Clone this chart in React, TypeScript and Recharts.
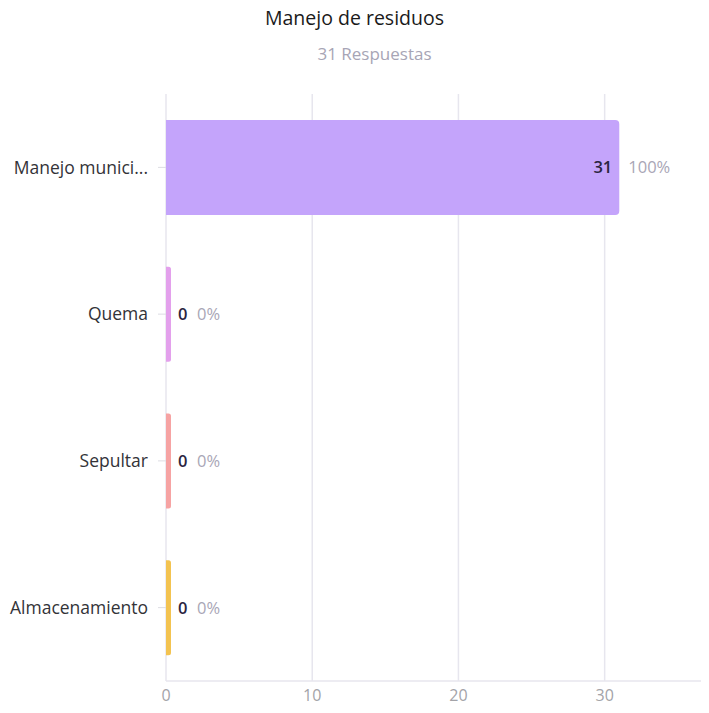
import { BarChart, Bar, XAxis, YAxis, CartesianGrid, Cell, LabelList, ReferenceLine } from 'recharts';

const categories = ['Manejo munici...', 'Quema', 'Sepultar', 'Almacenamiento'];
const counts = [31, 0, 0, 0];
const barColors = ['#c4a4fb', '#e3a0ec', '#f6a3a3', '#f3c350'];
const xTicks = [0, 10, 20, 30];
const totalResponses = 31;

const FONT = '"Open Sans", Lato, sans-serif';
const GRID = '#e7e6ee';
const X_MAX = 37;

const rows = categories.map((name, i) => ({
  name,
  count: counts[i],
  pct: Math.round((counts[i] / totalResponses) * 100),
}));

// count + percentage drawn next to the bar end
function BarLabel(props: any) {
  const { x, y, width, height, index } = props;
  const row = rows[index];
  const cy = y + height / 2;
  const inside = width > 40;
  const countX = inside ? x + width - 7 : x + width + 7;
  const pctX = inside ? x + width + 9 : x + width + 26;
  return (
    <g style={{ fontFamily: FONT, fontSize: 16.5 }}>
      <text x={countX} y={cy} dy="0.35em" textAnchor={inside ? 'end' : 'start'} fill="#2b2540" fontWeight={600}>
        {row.count}
      </text>
      <text x={pctX} y={cy} dy="0.35em" textAnchor="start" fill="#a9a6b6">
        {row.pct}%
      </text>
    </g>
  );
}

export default function App() {
  return (
    <div style={{ position: 'relative', width: 709, height: 713, margin: -8, background: '#fff', fontFamily: FONT }}>
      <div style={{ position: 'absolute', top: 4, left: 0, width: 709, textAlign: 'center', fontSize: 19.5, color: '#1a1a1a' }}>
        Manejo de residuos
      </div>
      <div style={{ position: 'absolute', top: 42, left: 20, width: 709, textAlign: 'center', fontSize: 17, color: '#a7a5b5' }}>
        {totalResponses} Respuestas
      </div>
      <BarChart
        width={709}
        height={713}
        data={rows}
        layout="vertical"
        margin={{ top: 94, right: 2, bottom: 0, left: 0 }}
        barCategoryGap={26}
      >
        <CartesianGrid horizontal={false} stroke={GRID} strokeWidth={1.5} />
        <XAxis
          type="number"
          domain={[0, X_MAX]}
          ticks={xTicks}
          tickLine={false}
          tickSize={6}
          tickMargin={3}
          axisLine={{ stroke: GRID, strokeWidth: 1.5 }}
          tick={{ fill: '#a3a3a8', fontSize: 16, fontFamily: FONT }}
          height={32}
        />
        <YAxis
          type="category"
          dataKey="name"
          width={166}
          tickSize={8}
          tickMargin={10}
          tickLine={{ stroke: '#dddde3' }}
          axisLine={false}
          tick={{ fill: '#333338', fontSize: 17.5, fontFamily: FONT }}
        />
        <ReferenceLine x={X_MAX} stroke={GRID} strokeWidth={1.5} />
        <Bar dataKey="count" barSize={95} minPointSize={5} radius={[0, 4, 4, 0]} isAnimationActive={false}>
          {rows.map((r, i) => (
            <Cell key={r.name} fill={barColors[i]} />
          ))}
          <LabelList dataKey="count" content={BarLabel} />
        </Bar>
      </BarChart>
    </div>
  );
}
